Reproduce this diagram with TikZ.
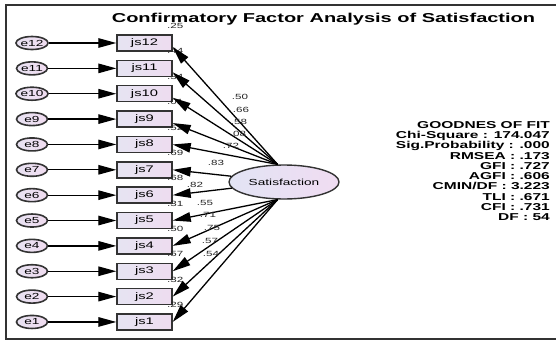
\documentclass[tikz,border=0pt]{standalone}
\usepackage{fontspec}
\setmainfont{Liberation Sans}
% AMOS-style wide sans text
\newfontfamily\widesans[FakeStretch=1.55]{Liberation Sans}
\usetikzlibrary{arrows.meta,shapes.geometric}
\definecolor{edgegray}{HTML}{333333}
\definecolor{boxL}{HTML}{E6E4F2}
\definecolor{boxR}{HTML}{EEDCF0}
\definecolor{errL}{HTML}{E8E2F2}
\definecolor{errR}{HTML}{F0DCF0}
\definecolor{latL}{HTML}{E2E4F4}
\definecolor{latR}{HTML}{F0DCF2}
\begin{document}
\begin{tikzpicture}[x=1pt,y=-1pt,
  errnode/.style={ellipse, draw=edgegray, line width=1.6pt, left color=errL, right color=errR,
    minimum width=31pt, minimum height=13pt, inner sep=0pt,
    font=\widesans\fontsize{8.8}{9}\selectfont},
  itembox/.style={rectangle, draw=edgegray, line width=1.4pt, left color=boxL, right color=boxR,
    minimum width=55pt, minimum height=16pt, inner sep=0pt,
    font=\widesans\fontsize{9.5}{10}\selectfont},
  latent/.style={ellipse, draw=edgegray, line width=1.4pt, left color=latL, right color=latR,
    minimum width=110pt, minimum height=34pt, inner sep=0pt,
    font=\widesans\fontsize{8.8}{9}\selectfont},
  patharrow/.style={-{Triangle[length=18pt,width=9.5pt]}, line width=1.3pt, black},
  numlabel/.style={font=\widesans\fontsize{7.5}{7.5}\selectfont, text=black!85, inner sep=0pt},
  fitinfo/.style={font=\widesans\bfseries\fontsize{10}{10.3}\selectfont, align=right, inner sep=0pt},
  titletext/.style={font=\widesans\bfseries\fontsize{12.9}{14}\selectfont, inner sep=0pt}
]
\useasboundingbox (0,0) rectangle (556,340);
\fill[white] (0,0) rectangle (556,340);

% outer frame
\draw[edgegray, line width=1.6pt] (6,5) rectangle (558,339);

% title
\node[titletext, anchor=base] (title) at (323.5,22) {Confirmatory Factor Analysis of Satisfaction};

% latent factor
\node[latent] (sat) at (284,182) {Satisfaction};

% error terms, indicators and squared multiple correlations
\foreach \i/\rsq in {12/.25, 11/.44, 10/.34, 9/.01, 8/.52, 7/.69, 6/.68, 5/.31, 4/.50, 3/.57, 2/.32, 1/.29} {
  \pgfmathsetmacro{\yy}{43+(12-\i)*25.36}
  \node[errnode] (e\i) at (32,\yy) {e\i};
  \node[itembox] (js\i) at (144.5,\yy) {js\i};
  \node[numlabel, anchor=west] (r\i) at (167,\yy-17) {\rsq};
  \draw[patharrow] (e\i.east) -- (js\i.west);
}

% factor loadings
\foreach \i in {12,11,10,9} {
  \draw[patharrow] (sat.110) -- (js\i.-8);
}
\draw[patharrow] (sat.110) -- (js8.east);
\draw[patharrow] (sat) -- (js7.east);
\draw[patharrow] (sat) -- (js6.east);
\foreach \i in {5,4,3,2,1} {
  \draw[patharrow] (sat.250) -- (js\i.east);
}

% standardized loading values
\foreach \v/\x/\y/\n in {.50/240/97/a, .66/241/110/b, .58/239/122/c, .08/238/134/d, .72/231/146/e,
  .83/216/163/f, .82/195/185/g, .55/205/203/h, .71/208/215/i, .75/212/228/j, .57/210/241/k, .54/211/254/l} {
  \node[numlabel] (w\n) at (\x,\y) {\v};
}

% model fit summary
\node[fitinfo, anchor=north east] (fit) at (550,121) {GOODNES OF FIT\\
Chi-Square : 174.047\\
Sig.Probability : .000\\
RMSEA : .173\\
GFI : .727\\
AGFI : .606\\
CMIN/DF : 3.223\\
TLI : .671\\
CFI : .731\\
DF : 54};
\end{tikzpicture}
\end{document}
